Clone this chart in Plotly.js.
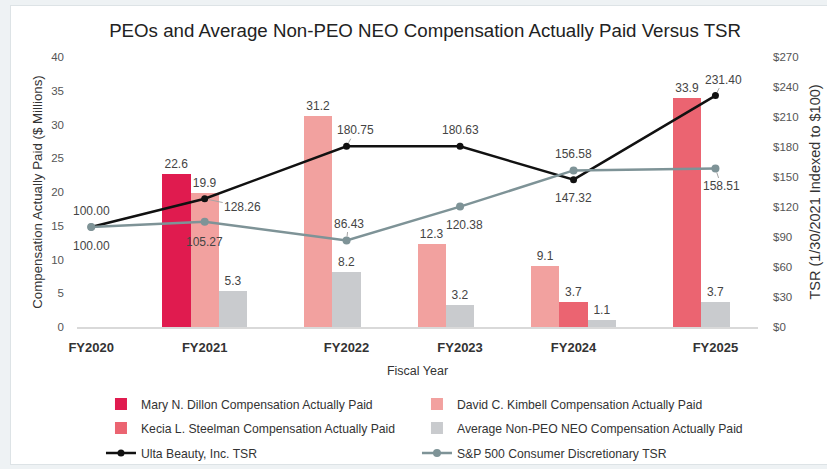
<!DOCTYPE html>
<html><head><meta charset="utf-8">
<script src="https://cdn.plot.ly/plotly-3.0.1.min.js"></script>
<style>
html,body{margin:0;padding:0;background:#eef2f4;width:827px;height:469px;overflow:hidden}
#card{position:absolute;left:10px;top:5px;width:830px;height:460px;background:#fff;border:1px solid #dde3e6;box-sizing:border-box}
#chart{position:absolute;left:0;top:0;width:827px;height:469px}
</style></head><body>
<div id="card"></div><div id="chart"></div>
<script>
// ---- data ----
const fiscalYears = ['FY2020','FY2021','FY2022','FY2023','FY2024','FY2025'];
const dillonCAP   = [null, 22.6, null, null, null, null];
const kimbellCAP  = [null, 19.9, 31.2, 12.3, 9.1, null];
const steelmanCAP = [null, null, null, null, 3.7, 33.9];
const nonPeoCAP   = [null, 5.3, 8.2, 3.2, 1.1, 3.7];
const ultaTSR     = [100.00, 128.26, 180.75, 180.63, 147.32, 231.40];
const spTSR       = [100.00, 105.27, 86.43, 120.38, 156.58, 158.51];

// ---- layout / positions (not data) ----
const yearSlot = [0, 4, 9, 13, 17, 22];          // x position of each fiscal year on the slot axis
const dillonSlot   = [0, -1, 0, 0, 0, 0];
const kimbellSlot  = [0, 0, -1, -1, -1, 0];
const steelmanSlot = [0, 0, 0, 0, 0, -1];
const nonPeoSlot   = [0, 1, 0, 0, 1, 0];
const ultaLabelOff = [[0,-16,false],[38,8,true],[9,-16,true],[0,-16,false],[0,18,false],[8,-16,true]];
const spLabelOff   = [[0,19,false],[0,20,false],[2,-17,true],[4,18,false],[0,-16,false],[6,18,true]];

const FONT = 'Liberation Sans, Arial, Helvetica, sans-serif';
const labelFont = {family: FONT, size: 12, color: '#444'};

function barTrace(name, vals, slots, color, legend) {
  return {
    type: 'bar', name: name, x: yearSlot, y: vals,
    offset: slots.map(s => s - 0.5), width: 1,
    marker: {color: color},
    text: vals.map(v => v == null ? '' : v.toFixed(1)),
    textposition: 'outside', constraintext: 'none', cliponaxis: false,
    textfont: labelFont, legend: legend, hoverinfo: 'skip'
  };
}

const traces = [
  barTrace('Mary N. Dillon Compensation Actually Paid', dillonCAP, dillonSlot, '#e01b4f', 'legend'),
  barTrace('David C. Kimbell Compensation Actually Paid', kimbellCAP, kimbellSlot, '#f2a19f', 'legend2'),
  barTrace('Kecia L. Steelman Compensation Actually Paid', steelmanCAP, steelmanSlot, '#eb6471', 'legend3'),
  barTrace('Average Non-PEO NEO Compensation Actually Paid', nonPeoCAP, nonPeoSlot, '#c9cbce', 'legend4'),
  {type:'scatter', mode:'lines+markers', name:'Ulta Beauty, Inc. TSR', x: yearSlot, y: ultaTSR, yaxis:'y2',
   line:{color:'#111', width:2.5}, marker:{color:'#111', size:7}, legend:'legend5', cliponaxis:false},
  {type:'scatter', mode:'lines+markers', name:'S&P 500 Consumer Discretionary TSR', x: yearSlot, y: spTSR, yaxis:'y2',
   line:{color:'#7e9397', width:2.5}, marker:{color:'#7e9397', size:8}, legend:'legend6', cliponaxis:false}
];

function lineLabels(vals, offs) {
  return vals.map((v, i) => {
    const o = offs[i];
    const a = {x: yearSlot[i], y: v, xref:'x', yref:'y2', text: v.toFixed(2), font: labelFont};
    if (o[2]) {
      Object.assign(a, {showarrow:true, ax:o[0], ay:o[1], arrowhead:0, arrowwidth:1, arrowcolor:'#a5a5a5', standoff:4});
    } else {
      Object.assign(a, {showarrow:false, xshift:o[0], yshift:-o[1]});
    }
    return a;
  });
}

const legendCommon = {orientation:'h', xanchor:'left', yanchor:'top', xref:'container', yref:'container',
  font:{family:FONT, size:12.2, color:'#333'}, bgcolor:'rgba(0,0,0,0)'};
const legCol = [0.1221, 0.5042];
const legRow = [0.1695, 0.1183, 0.0650];
function leg(c, r) { return Object.assign({}, legendCommon, {x: legCol[c], y: legRow[r]}); }

const layout = {
  width: 827, height: 469,
  margin: {l:77, r:69, t:57, b:142, autoexpand:false},
  paper_bgcolor: 'rgba(0,0,0,0)', plot_bgcolor: 'rgba(0,0,0,0)',
  font: {family: FONT, color:'#333'},
  title: {text:'PEOs and Average Non-PEO NEO Compensation Actually Paid Versus TSR',
          xref:'container', x:0.514, xanchor:'center', yref:'container', y:0.936, yanchor:'middle',
          font:{family:FONT, size:18.7, color:'#222'}},
  barmode: 'overlay', bargap: 0,
  showlegend: true,
  legend: leg(0,0), legend2: leg(1,0),
  legend3: leg(0,1), legend4: leg(1,1),
  legend5: leg(0,2), legend6: leg(1,2),
  xaxis: {range:[-0.5, 23.5], tickvals: yearSlot, ticktext: fiscalYears, showgrid:false, zeroline:false,
          showline:true, linecolor:'#d9d9d9', linewidth:1.5, ticks:'', ticklabelstandoff:8,
          tickfont:{family:FONT, size:13, color:'#333', weight:'bold'},
          title:{text:'Fiscal Year', standoff:12, font:{family:FONT, size:12.5, color:'#333'}}},
  yaxis: {range:[0,40], dtick:5, showgrid:false, zeroline:false, showline:false, ticks:'',
          ticklabelstandoff:12, tickfont:{family:FONT, size:11.5, color:'#555'},
          title:{text:'Compensation Actually Paid ($ Millions)', standoff:5, font:{family:FONT, size:13.3, color:'#333'}}},
  yaxis2: {range:[0,270], dtick:30, tickprefix:'$', overlaying:'y', side:'right', showgrid:false, zeroline:false,
           showline:false, ticks:'', ticklabelstandoff:14, tickfont:{family:FONT, size:11.5, color:'#555'},
           title:{text:'TSR (1/30/2021 Indexed to $100)', standoff:12, font:{family:FONT, size:14.5, color:'#333'}}},
  annotations: lineLabels(ultaTSR, ultaLabelOff).concat(lineLabels(spTSR, spLabelOff))
};

Plotly.newPlot('chart', traces, layout, {displayModeBar:false, staticPlot:true});
</script></body></html>
